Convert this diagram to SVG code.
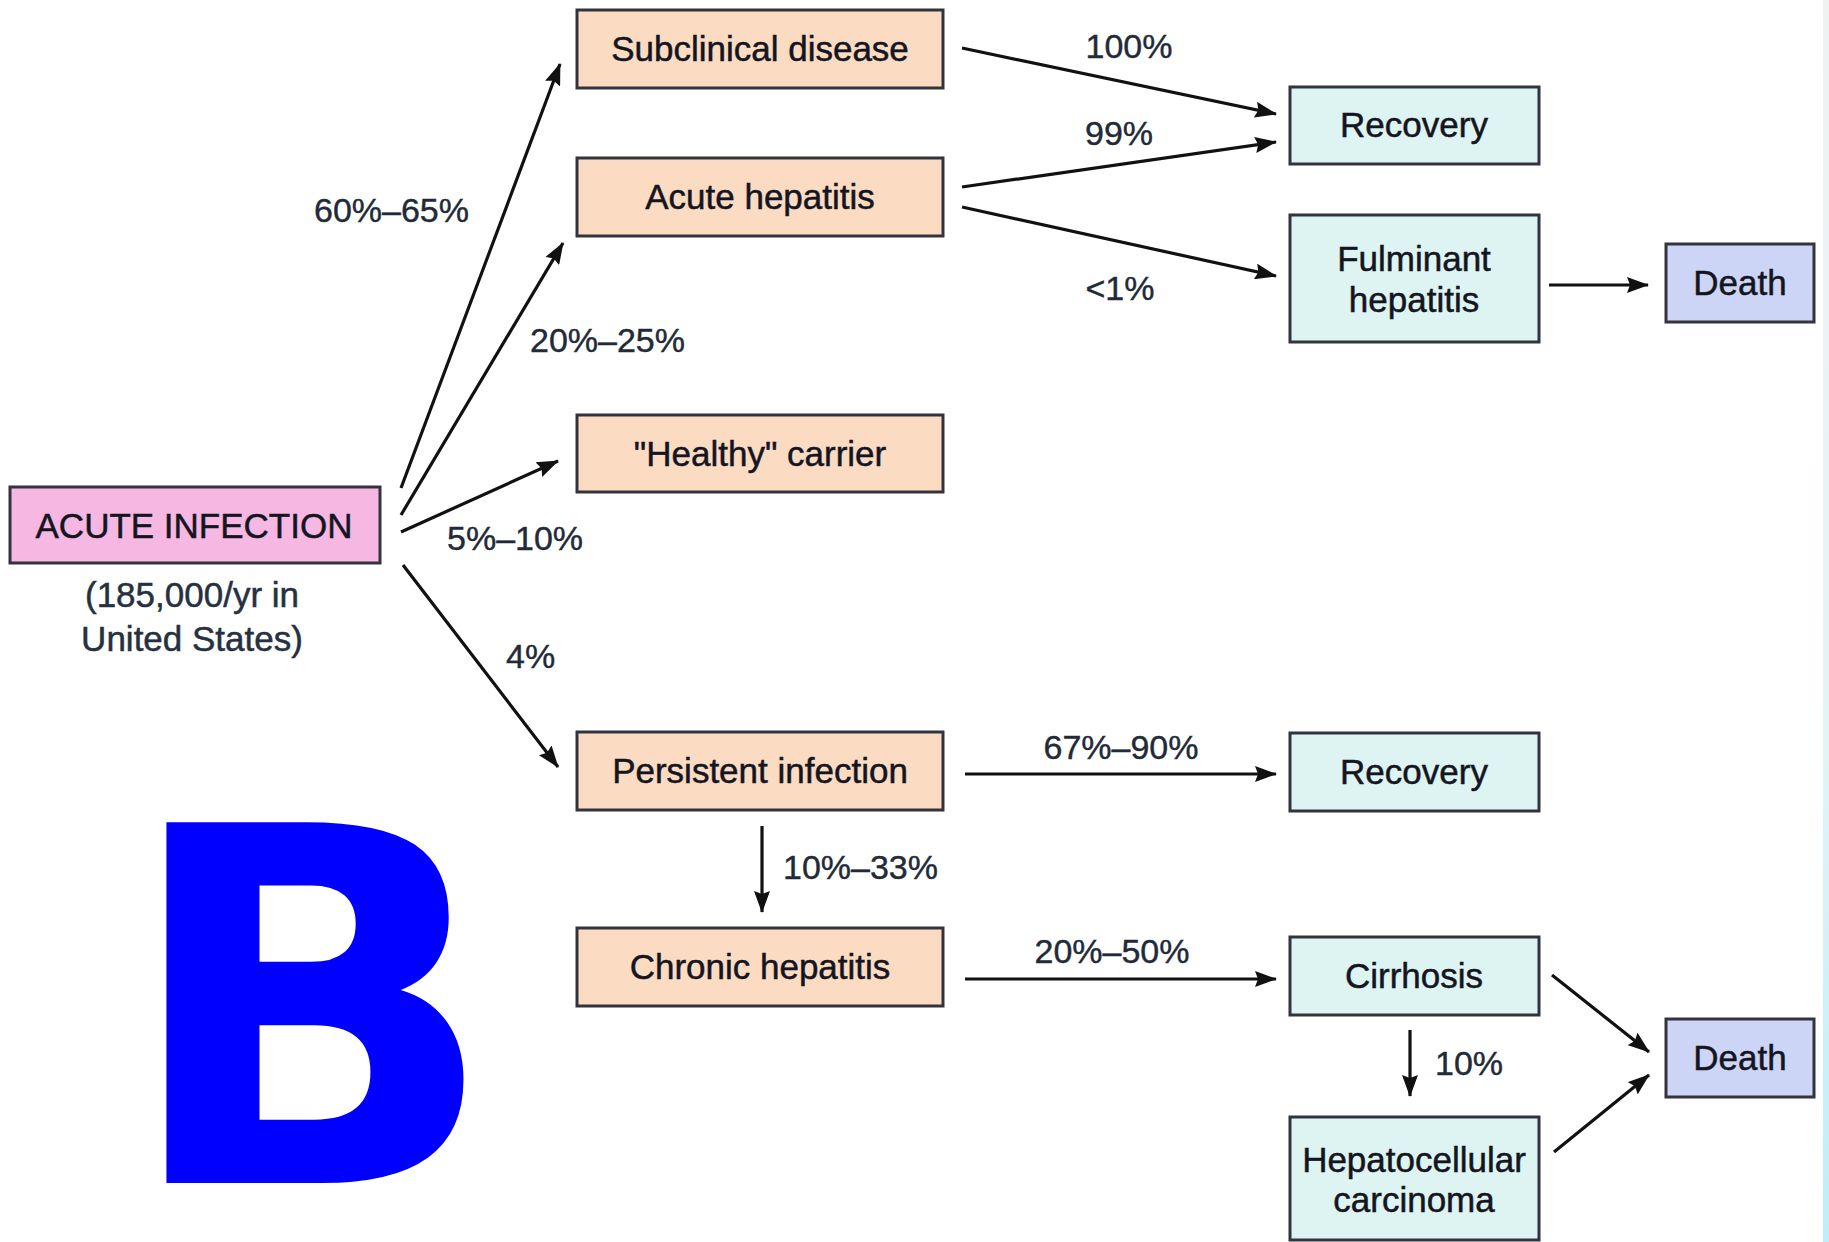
<svg xmlns="http://www.w3.org/2000/svg" width="1829" height="1242" viewBox="0 0 1829 1242">
<defs>
<marker id="ah" viewBox="0 0 22 16" refX="21" refY="8" markerWidth="22" markerHeight="16" markerUnits="userSpaceOnUse" orient="auto">
<path d="M0,0 L22,8 L0,16 L3,8 z" fill="#111"/>
</marker>
<linearGradient id="edge" x1="0" y1="0" x2="0" y2="1">
<stop offset="0" stop-color="#f0f2f2"/>
<stop offset="0.6" stop-color="#e4f3f6"/>
<stop offset="1" stop-color="#bdeef9"/>
</linearGradient>
<style>
.box{stroke:#33333d;stroke-width:3}
.or{fill:#fbdcc3}
.cy{fill:#ddf4f2}
.lv{fill:#cdd5f7}
.pk{fill:#f6b8e2}
.t{font-family:"Liberation Sans",Arial,sans-serif;font-size:35px;fill:#15151f;stroke:#15151f;stroke-width:0.5;text-anchor:middle}
.l{font-family:"Liberation Sans",Arial,sans-serif;font-size:34px;fill:#222a38;stroke:#222a38;stroke-width:0.4}
.c{text-anchor:middle}
.con line{stroke:#111;stroke-width:3.2;marker-end:url(#ah)}
</style>
</defs>
<rect x="0" y="0" width="1829" height="1242" fill="#ffffff"/>
<rect x="1823" y="0" width="6" height="1242" fill="url(#edge)"/>

<g id="acute-infection">
<rect class="box pk" x="10" y="487" width="370" height="76"/>
<text class="t" x="194" y="538">ACUTE INFECTION</text>
<text class="t" x="192" y="607" style="fill:#263040;stroke:#263040">(185,000/yr in</text>
<text class="t" x="192" y="651" style="fill:#263040;stroke:#263040">United States)</text>
</g>
<g id="subclinical">
<rect class="box or" x="577" y="10" width="366" height="78"/>
<text class="t" x="760" y="61">Subclinical disease</text>
</g>
<g id="acute-hepatitis">
<rect class="box or" x="577" y="158" width="366" height="78"/>
<text class="t" x="760" y="209">Acute hepatitis</text>
</g>
<g id="healthy-carrier">
<rect class="box or" x="577" y="415" width="366" height="77"/>
<text class="t" x="760" y="466">"Healthy" carrier</text>
</g>
<g id="persistent">
<rect class="box or" x="577" y="732" width="366" height="78"/>
<text class="t" x="760" y="783">Persistent infection</text>
</g>
<g id="chronic">
<rect class="box or" x="577" y="928" width="366" height="78"/>
<text class="t" x="760" y="979">Chronic hepatitis</text>
</g>
<g id="recovery-1">
<rect class="box cy" x="1290" y="87" width="249" height="77"/>
<text class="t" x="1414" y="137">Recovery</text>
</g>
<g id="fulminant">
<rect class="box cy" x="1290" y="215" width="249" height="127"/>
<text class="t" x="1414" y="271">Fulminant</text>
<text class="t" x="1414" y="312">hepatitis</text>
</g>
<g id="death-1">
<rect class="box lv" x="1666" y="244" width="148" height="78"/>
<text class="t" x="1740" y="295">Death</text>
</g>
<g id="recovery-2">
<rect class="box cy" x="1290" y="733" width="249" height="78"/>
<text class="t" x="1414" y="784">Recovery</text>
</g>
<g id="cirrhosis">
<rect class="box cy" x="1290" y="937" width="249" height="78"/>
<text class="t" x="1414" y="988">Cirrhosis</text>
</g>
<g id="hcc">
<rect class="box cy" x="1290" y="1117" width="249" height="123"/>
<text class="t" x="1414" y="1172">Hepatocellular</text>
<text class="t" x="1414" y="1212">carcinoma</text>
</g>
<g id="death-2">
<rect class="box lv" x="1666" y="1019" width="148" height="78"/>
<text class="t" x="1740" y="1070">Death</text>
</g>

<g id="connectors" class="con">
<line x1="401" y1="488" x2="560" y2="64"/>
<line x1="401" y1="515" x2="563" y2="243"/>
<line x1="401" y1="532" x2="558" y2="461"/>
<line x1="403" y1="565" x2="558" y2="767"/>
<line x1="962" y1="48" x2="1276" y2="114"/>
<line x1="962" y1="187" x2="1276" y2="142"/>
<line x1="962" y1="207" x2="1276" y2="276"/>
<line x1="1549" y1="285" x2="1648" y2="285"/>
<line x1="965" y1="774" x2="1276" y2="774"/>
<line x1="762" y1="826" x2="762" y2="912"/>
<line x1="965" y1="979" x2="1276" y2="979"/>
<line x1="1410" y1="1030" x2="1410" y2="1096"/>
<line x1="1552" y1="975" x2="1649" y2="1052"/>
<line x1="1554" y1="1152" x2="1649" y2="1075"/>
</g>

<g id="labels">
<text class="l" x="314" y="222">60%–65%</text>
<text class="l" x="530" y="352">20%–25%</text>
<text class="l" x="447" y="550">5%–10%</text>
<text class="l" x="506" y="668">4%</text>
<text class="l c" x="1129" y="58">100%</text>
<text class="l c" x="1119" y="145">99%</text>
<text class="l c" x="1120" y="300">&lt;1%</text>
<text class="l c" x="1121" y="759">67%–90%</text>
<text class="l" x="783" y="879">10%–33%</text>
<text class="l c" x="1112" y="963">20%–50%</text>
<text class="l" x="1435" y="1075">10%</text>
</g>

<text x="121" y="1183" style="font-family:'DejaVu Sans',sans-serif;font-weight:bold;font-size:495px;fill:#0000ff">B</text>
</svg>
